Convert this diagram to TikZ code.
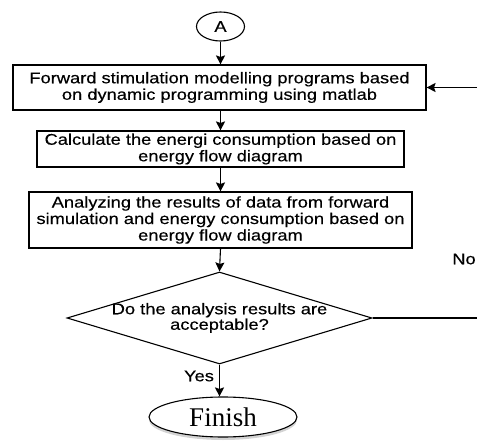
\documentclass[tikz,border=0pt]{standalone}
\usepackage{fontspec}
\usetikzlibrary{shapes.geometric,arrows.meta,shadows}
\newfontfamily\flowsans[FakeStretch=1.18,FakeBold=0.35]{Liberation Sans}
\newfontfamily\flowserif{Liberation Serif}

\tikzset{
  base/.style={draw=black, line width=1.1pt, font=\flowsans\fontsize{15.5}{16.5}\selectfont, align=center, inner sep=0pt},
  procbox/.style={base, rectangle, minimum width=#1},
  connector/.style={base, ellipse, minimum width=48pt, minimum height=29pt},
  decision/.style={draw=black, line width=1.1pt, diamond, inner sep=0pt, minimum width=305pt, minimum height=92pt},
  dectext/.style={font=\flowsans\fontsize{15.5}{15.5}\selectfont, align=center, inner sep=0pt},
  terminal/.style={draw=black, line width=1.1pt, ellipse, fill=white, minimum width=148pt, minimum height=40pt, inner sep=0pt,
    font=\flowserif\fontsize{27}{27}\selectfont,
    drop shadow={shadow xshift=0pt, shadow yshift=-3pt, opacity=0.35}},
  tag/.style={font=\flowsans\fontsize{15.5}{16.5}\selectfont, inner sep=0pt},
  arr/.style={line width=1.1pt, -{Stealth[length=9pt,width=9pt,inset=1.5pt]}},
}

\begin{document}
\begin{tikzpicture}[x=1pt,y=-1pt]
  \useasboundingbox (0,0) rectangle (477,441);
  \clip (0,0) rectangle (477,441);

  \node[connector] (a) at (220.5,26.5) {A};
  \node[procbox=413pt, minimum height=45pt] (b1) at (219.5,87.5)
    {Forward stimulation modelling programs based\\on dynamic programming using matlab};
  \node[procbox=367pt, minimum height=36pt] (b2) at (220.5,149)
    {Calculate the energi consumption based on\\energy flow diagram};
  \node[procbox=383pt, minimum height=56pt] (b3) at (220.5,220)
    {Analyzing the results of data from forward\\simulation and energy consumption based on\\energy flow diagram};
  \node[decision, label={[dectext]center:{Do the analysis results are\\acceptable?}}] (d) at (219.5,318) {};
  \node[terminal] (fin) at (223,417) {Finish};

  \node[tag] (yes) at (199,376) {Yes};
  \node[tag] (no) at (464,259) {No};

  \coordinate (rt) at (492,0);

  \draw[arr] (a) -- (a |- b1.north);
  \draw[arr] (b1.south -| a) -- (b2.north -| a);
  \draw[arr] (b2.south -| a) -- (b3.north -| a);
  \draw[arr] (b3.south -| a) -- (d.north);
  \draw[arr] (d.south) -- (d.south |- fin.north);
  \draw[arr] (d.east) -- (d.east -| rt) |- (b1.east);
\end{tikzpicture}
\end{document}
